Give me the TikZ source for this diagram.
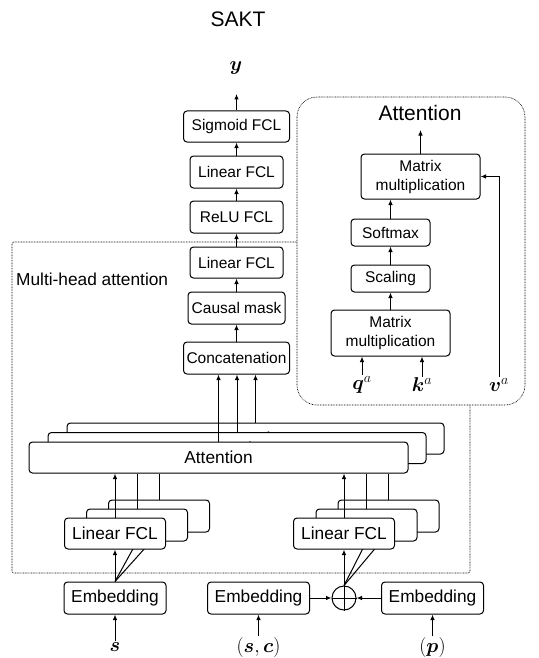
\RequirePackage{fix-cm}
\documentclass[tikz,border=0pt]{standalone}
\usepackage{amsmath}
\usepackage{bm}
\usepackage{fontspec}
\setmainfont{Liberation Sans}
\usetikzlibrary{arrows.meta}
\newcommand{\myfa}{\fontsize{15.5}{19}\selectfont}
\newcommand{\myfb}{\fontsize{17.3}{20}\selectfont}
\newcommand{\myfm}{\fontsize{20}{24}\selectfont}
\newcommand{\myft}{\fontsize{21}{25}\selectfont}
\begin{document}
\begin{tikzpicture}[x=1pt,y=-1pt,
  box/.style={draw, rounded corners=3.5pt, line width=1pt, fill=white, inner sep=0pt, font=\myfa, align=center},
  boxb/.style={box, font=\myfb},
  arr/.style={-{Latex[length=5.5pt,width=4.5pt]}, line width=1pt},
  ln/.style={line width=1pt},
  frame/.style={draw, line width=0.6pt, dash pattern=on 0.8pt off 0.8pt},
  lab/.style={inner sep=1pt, font=\myfm}]
\useasboundingbox (0,0) rectangle (538,658);

% frames
\draw[frame, rounded corners=2pt] (12,242) rectangle (470,573);
\draw[frame, rounded corners=20pt, fill=white] (297,97) rectangle (525,405);

% main column
\node[font=\myft] (title) at (238,19) {SAKT};
\coordinate (ytip) at (236.5,94);
\node[lab] (yl) at (236,68.5) {$\bm{y}$};
\node[box, minimum width=106pt, minimum height=31pt] (sig) at (236.5,126.5) {Sigmoid FCL};
\node[box, minimum width=93pt, minimum height=32pt] (lin2) at (236.5,172) {Linear FCL};
\node[box, minimum width=93pt, minimum height=32pt] (relu) at (236.5,217) {ReLU FCL};
\node[box, minimum width=93pt, minimum height=31pt] (lin1) at (236.5,262.5) {Linear FCL};
\node[box, minimum width=97pt, minimum height=32pt] (mask) at (236.5,308) {Causal mask};
\node[box, minimum width=106pt, minimum height=32pt] (concat) at (236.5,358) {Concatenation};
\draw[arr] (sig.north) -- (ytip);
\draw[arr] (lin2) -- (sig);
\draw[arr] (relu) -- (lin2);
\draw[arr] (lin1) -- (relu);
\draw[arr] (mask) -- (lin1);
\draw[arr] (concat) -- (mask);

\node[font=\myfb, anchor=west, inner sep=0pt] (mhl) at (16,279) {Multi-head attention};

% attention detail
\node[font=\myft] (atitle) at (420,113) {Attention};
\coordinate (atip) at (420.5,130);
\node[box, minimum width=119pt, minimum height=45pt] (mm2) at (420.5,176.5) {Matrix\\multiplication};
\node[box, minimum width=79pt, minimum height=27pt] (soft) at (390.5,232.5) {Softmax};
\node[box, minimum width=79pt, minimum height=27pt] (scal) at (390.5,278.5) {Scaling};
\node[box, minimum width=119pt, minimum height=46pt] (mm1) at (390.5,333) {Matrix\\multiplication};
\node[lab] (qa) at (362,385) {$\bm{q}^a$};
\node[lab] (ka) at (422,385) {$\bm{k}^a$};
\node[lab] (va) at (499,385) {$\bm{v}^a$};
\draw[arr] (qa.north) -- (qa.north |- mm1.south);
\draw[arr] (ka.north) -- (ka.north |- mm1.south);
\draw[arr] (mm2) -- (atip);
\draw[arr] (soft.north) -- (soft.north |- mm2.south);
\draw[arr] (scal) -- (soft);
\draw[arr] (mm1) -- (scal);
\draw[arr] (va.north) |- (mm2.east);

% attention heads (stacked)
\node[boxb, minimum width=377pt, minimum height=31pt] (att3) at (255.5,438.5) {Attention};
\draw[arr] (att3.north) -- (att3.north |- concat.south);
\node[boxb, minimum width=378pt, minimum height=31pt] (att2) at (237,448) {Attention};
\draw[arr] (att2.north) -- (att2.north |- concat.south);
\node[boxb, minimum width=379pt, minimum height=31pt] (att1) at (218.5,457.5) {Attention};
\draw[arr] (att1.north) -- (att1.north |- concat.south);

% bottom inputs
\node[boxb, minimum width=102pt, minimum height=32pt] (emb1) at (115,598) {Embedding};
\node[boxb, minimum width=102pt, minimum height=32pt] (emb2) at (258.5,598) {Embedding};
\node[boxb, minimum width=102pt, minimum height=32pt] (emb3) at (432.5,598) {Embedding};
\node[draw, circle, line width=1pt, minimum size=24pt, inner sep=0pt] (plus) at (344,598) {};
\draw[ln] (plus.north) -- (plus.south) (plus.west) -- (plus.east);
\node[lab] (sl) at (115,647) {$\bm{s}$};
\node[lab] (scl) at (258.5,647.5) {$(\bm{s},\bm{c})$};
\node[lab] (pl) at (432.5,647.5) {$(\bm{p})$};
\draw[arr] (sl) -- (emb1);
\draw[arr] (scl) -- (emb2);
\draw[arr] (pl) -- (emb3);
\draw[arr] (emb2) -- (plus);
\draw[arr] (emb3) -- (plus);

% left linear stack
\node[boxb, minimum width=101pt, minimum height=32pt] (L3) at (159,516) {};
\node[boxb, minimum width=101pt, minimum height=32pt] (L2) at (137,525) {};
\draw[ln] (L3.north) -- (L3.north |- att1.south);
\draw[ln] (L2.north) -- (L2.north |- att1.south);
\draw[ln] (emb1.north) -- (L3.south);
\draw[ln] (emb1.north) -- (L2.south);
\node[boxb, minimum width=101pt, minimum height=31pt] (L1) at (115,533.5) {Linear FCL};
\draw[arr] (emb1) -- (L1);
\draw[arr] (L1.north) -- (L1.north |- att1.south);

% right linear stack
\node[boxb, minimum width=101pt, minimum height=32pt] (R3) at (388.5,516) {};
\node[boxb, minimum width=101pt, minimum height=32pt] (R2) at (366.5,525) {};
\draw[ln] (R3.north) -- (R3.north |- att1.south);
\draw[ln] (R2.north) -- (R2.north |- att1.south);
\draw[ln] (plus.north) -- (R3.south);
\draw[ln] (plus.north) -- (R2.south);
\node[boxb, minimum width=101pt, minimum height=31pt] (R1) at (344,533.5) {Linear FCL};
\draw[arr] (plus) -- (R1);
\draw[arr] (R1.north) -- (R1.north |- att1.south);
\end{tikzpicture}
\end{document}
